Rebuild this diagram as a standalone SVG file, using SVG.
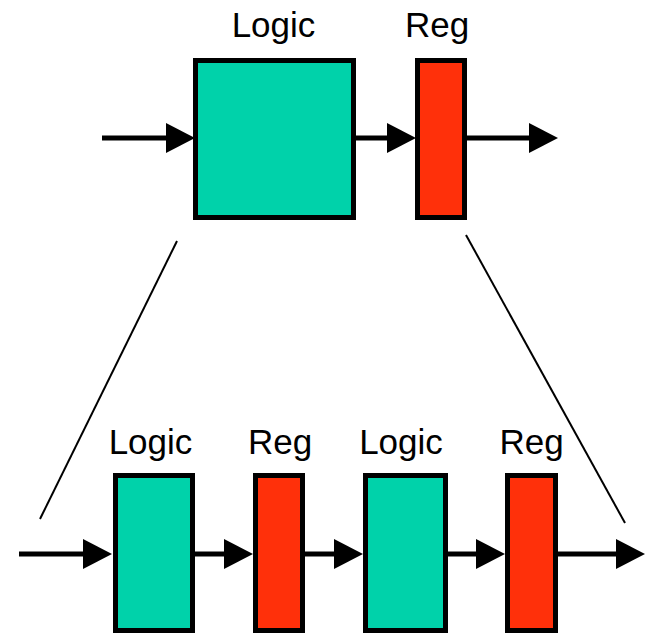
<svg xmlns="http://www.w3.org/2000/svg" width="645" height="634" viewBox="0 0 645 634">
  <style>
    .lbl { font-family: "Liberation Sans", Arial, sans-serif; font-size: 35px; fill: #000; text-anchor: middle; }
    .logic { fill: #00D2AA; stroke: #000; stroke-width: 5; }
    .reg { fill: #FF300A; stroke: #000; stroke-width: 5; }
    .wire { stroke: #000; stroke-width: 5; fill: none; }
    .guide { stroke: #000; stroke-width: 2; fill: none; }
  </style>
  <defs>
    <marker id="ah" viewBox="0 0 29 30" refX="2" refY="15" markerWidth="29" markerHeight="30" markerUnits="userSpaceOnUse" orient="auto">
      <path d="M0,0 L29,15 L0,30 Z" fill="#000"/>
    </marker>
  </defs>
  <rect width="645" height="634" fill="#fff"/>

  <g id="connectors">
    <line class="wire" x1="102" y1="138" x2="168" y2="138" marker-end="url(#ah)"/>
    <line class="wire" x1="356" y1="138" x2="389" y2="138" marker-end="url(#ah)"/>
    <line class="wire" x1="466" y1="138" x2="531" y2="138" marker-end="url(#ah)"/>
    <line class="wire" x1="19" y1="554" x2="85" y2="554" marker-end="url(#ah)"/>
    <line class="wire" x1="195" y1="554" x2="226" y2="554" marker-end="url(#ah)"/>
    <line class="wire" x1="305" y1="554" x2="336" y2="554" marker-end="url(#ah)"/>
    <line class="wire" x1="448" y1="554" x2="478" y2="554" marker-end="url(#ah)"/>
    <line class="wire" x1="558" y1="554" x2="618" y2="554" marker-end="url(#ah)"/>
    <line class="guide" x1="177" y1="241" x2="40" y2="519"/>
    <line class="guide" x1="466" y1="235" x2="625" y2="523"/>
  </g>

  <g id="top-logic">
    <rect class="logic" x="195.5" y="60.5" width="158" height="157"/>
    <text class="lbl" x="273.5" y="37">Logic</text>
  </g>
  <g id="top-reg">
    <rect class="reg" x="417.5" y="60.5" width="47" height="157"/>
    <text class="lbl" x="437" y="37">Reg</text>
  </g>

  <g id="logic-1">
    <rect class="logic" x="115.5" y="475.5" width="77" height="155"/>
    <text class="lbl" x="150.5" y="454">Logic</text>
  </g>
  <g id="reg-1">
    <rect class="reg" x="255.5" y="475.5" width="47" height="155"/>
    <text class="lbl" x="280" y="454">Reg</text>
  </g>
  <g id="logic-2">
    <rect class="logic" x="365.5" y="475.5" width="80" height="155"/>
    <text class="lbl" x="401" y="454">Logic</text>
  </g>
  <g id="reg-2">
    <rect class="reg" x="507.5" y="475.5" width="48" height="155"/>
    <text class="lbl" x="531.5" y="454">Reg</text>
  </g>
</svg>
